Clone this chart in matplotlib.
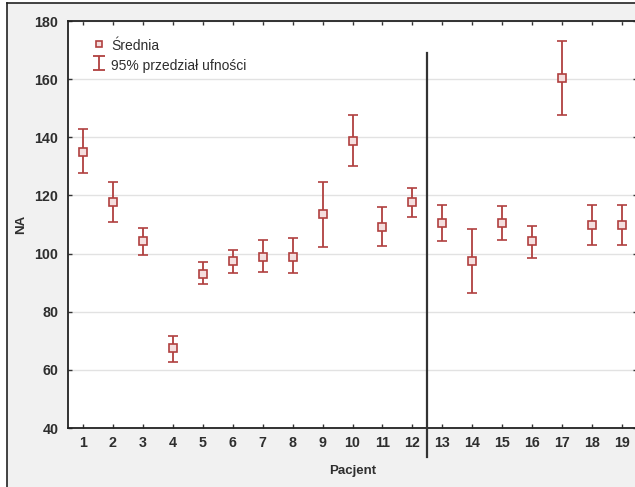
import matplotlib.pyplot as plt
from matplotlib.lines import Line2D
from matplotlib.patches import Rectangle
import numpy as np

# Dane
pacjent = np.arange(1, 20)
srednia = [135, 117.7, 104.2, 67.4, 93.0, 97.3, 98.7, 98.7, 113.5, 138.8,
           109.2, 117.7, 110.4, 97.4, 110.4, 104.3, 160.3, 109.8, 109.8]
dolna = [127.6, 111.0, 99.5, 62.8, 89.4, 93.2, 93.5, 93.2, 102.4, 130.1,
         102.6, 112.7, 104.3, 86.3, 104.6, 98.6, 147.7, 102.9, 102.9]
gorna = [142.7, 124.7, 108.9, 71.6, 97.0, 101.2, 104.5, 105.2, 124.7, 147.7,
         116.0, 122.7, 116.7, 108.4, 116.4, 109.5, 173.1, 116.7, 116.7]

red = "#b0403f"
txt = "#2e2e2e"
plt.rcParams["font.family"] = ["Liberation Sans", "DejaVu Sans"]

fig = plt.figure(figsize=(6.35, 4.87), dpi=100, facecolor="white")

# tlo i ramka
fig.patches.append(Rectangle((7 / 635, 0), 1, 1 - 3 / 487, transform=fig.transFigure,
                             facecolor="#f1f1f1", edgecolor="none", zorder=-10))
fig.add_artist(Line2D([7 / 635, 7 / 635], [0, 1 - 3 / 487], color="#222222", lw=1.2,
                      transform=fig.transFigure))
fig.add_artist(Line2D([7 / 635, 1], [1 - 3 / 487, 1 - 3 / 487], color="#222222", lw=1.2,
                      transform=fig.transFigure))

ax = fig.add_axes([68 / 635, 59 / 487, 569 / 635, 407 / 487])
ax.set_facecolor("white")

yerr = [np.array(srednia) - np.array(dolna), np.array(gorna) - np.array(srednia)]
ax.errorbar(pacjent, srednia, yerr=yerr, fmt="s", color=red, mfc="#f4dede", mec=red,
            ms=6, mew=1.2, ecolor=red, elinewidth=1.3, capsize=3.5, capthick=1.3,
            zorder=3)

# linia podzialu miedzy pacjentami 12 i 13
ax.plot([12.5, 12.5], [30, 169], color="#333333", lw=1.6, clip_on=False, zorder=4)

ax.set_xlim(0.5, 19.5)
ax.set_ylim(40, 180)
ax.set_xticks(pacjent)
ax.set_yticks(np.arange(40, 181, 20))
ax.yaxis.grid(True, color="#e2e2e2", lw=1.0)
ax.set_axisbelow(True)
for s in ["left", "bottom", "top"]:
    ax.spines[s].set_color("#222222")
    ax.spines[s].set_linewidth(1.3)
ax.spines["right"].set_visible(False)
ax.tick_params(axis="both", direction="in", length=3, width=1, color="#333333",
               labelsize=10.3, labelcolor=txt, top=True, right=True)
ax.tick_params(axis="x", pad=6)
ax.tick_params(axis="y", pad=7)
for lab in ax.get_xticklabels() + ax.get_yticklabels():
    lab.set_fontweight("bold")

ax.set_ylabel("NA", fontsize=9.5, color=txt, fontweight="bold", labelpad=5)
ax.set_xlabel("Pacjent", fontsize=9.5, color=txt, fontweight="bold")
ax.xaxis.set_label_coords(0.5, -0.09)

# legenda (uchwyt przedzialu rysowany poza zakresem osi)
h1 = Line2D([], [], marker="s", ls="none", color=red, mfc="#f4dede", ms=5, mew=1.2)
h2 = ax.errorbar([-10], [100], yerr=[5], fmt="none", ecolor=red, capsize=4,
                 elinewidth=1.3, capthick=1.3)
ax.legend([h1, h2], ["Średnia", "95% przedział ufności"], loc="upper left",
          bbox_to_anchor=(0.02, 0.99), frameon=False, fontsize=10,
          labelcolor=txt, handlelength=1.0, handletextpad=0.4, labelspacing=0.25,
          handleheight=1.4)

fig.savefig("out.png", dpi=100, facecolor=fig.get_facecolor())
